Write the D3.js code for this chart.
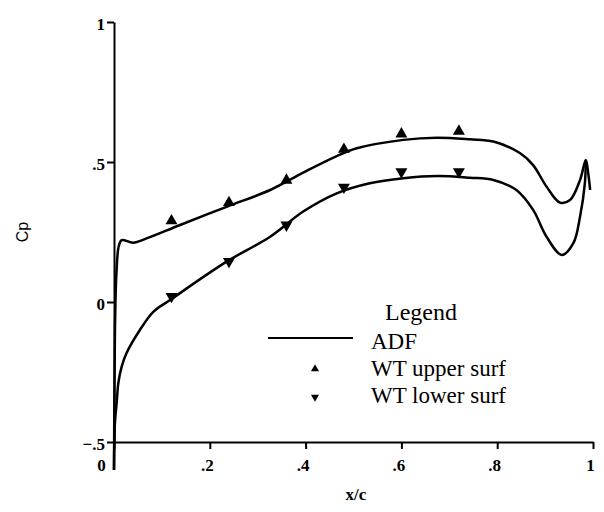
<!DOCTYPE html>
<html>
<head>
<meta charset="utf-8">
<script src="https://cdn.jsdelivr.net/npm/d3@7.9.0/dist/d3.min.js"></script>
<style>
  body { margin: 0; background: #fff; }
  svg { display: block; }
  .tick text { font-family: "Liberation Serif", serif; font-weight: bold; font-size: 17px; }
</style>
</head>
<body>
<svg id="chart" width="604" height="512"></svg>
<script>
// ADF computed curve, upper surface (leading edge -> trailing edge)
const adfUpperX  = [0, 0.002, 0.005, 0.010, 0.016, 0.040, 0.068, 0.138, 0.235, 0.326, 0.395, 0.465, 0.507, 0.604, 0.674, 0.743, 0.792, 0.848, 0.875, 0.903, 0.931, 0.952, 0.973, 0.985, 0.990, 0.994];
const adfUpperCp = [-0.6, -0.1, 0.10, 0.20, 0.221, 0.212, 0.227, 0.275, 0.340, 0.400, 0.462, 0.521, 0.549, 0.579, 0.587, 0.581, 0.573, 0.531, 0.489, 0.412, 0.355, 0.364, 0.436, 0.507, 0.46, 0.40];

// ADF computed curve, lower surface
const adfLowerX  = [0, 0.002, 0.0056, 0.009, 0.016, 0.026, 0.054, 0.082, 0.117, 0.235, 0.326, 0.395, 0.465, 0.534, 0.604, 0.674, 0.743, 0.792, 0.840, 0.875, 0.903, 0.935, 0.959, 0.973, 0.983, 0.985];
const adfLowerCp = [-0.6, -0.43, -0.36, -0.29, -0.231, -0.183, -0.100, -0.035, 0.007, 0.144, 0.233, 0.323, 0.388, 0.424, 0.442, 0.450, 0.444, 0.436, 0.400, 0.329, 0.233, 0.168, 0.210, 0.305, 0.424, 0.507];

// wind tunnel data
const wtX       = [0.12, 0.24, 0.36, 0.48, 0.60, 0.72];
const wtUpperCp = [0.29, 0.355, 0.435, 0.545, 0.60, 0.61];
const wtLowerCp = [0.02, 0.145, 0.275, 0.41, 0.465, 0.465];

const xTicks = [0, 0.2, 0.4, 0.6, 0.8, 1];
const yTicks = [-0.5, 0, 0.5, 1];
const legendLabels = ["ADF", "WT upper surf", "WT lower surf"];

const svg = d3.select('#chart');
svg.append('rect').attr('width', 604).attr('height', 512).attr('fill', '#fff');

const x = d3.scaleLinear().domain([0, 1]).range([114, 593]);
const y = d3.scaleLinear().domain([-0.5, 1]).range([442, 22]);

const fmt = v => v === 0 ? '0' : (v === 1 ? '1' : d3.format('.1f')(v).replace('0.', '.'));

// x axis
const gx = svg.append('g')
  .attr('transform', `translate(0,${y(-0.5)})`)
  .call(d3.axisBottom(x).tickValues(xTicks).tickSize(7).tickSizeOuter(0).tickPadding(10).tickFormat(fmt));
gx.selectAll('text').attr('dx', -3);
gx.selectAll('.tick').filter(d => d === 0).select('text').attr('dx', -13);

// y axis
const gy = svg.append('g')
  .attr('transform', `translate(${x(0)},0)`)
  .call(d3.axisLeft(y).tickValues(yTicks).tickSize(7).tickSizeOuter(0).tickPadding(2).tickFormat(fmt));
gy.selectAll('text').attr('dy', '0.45em');

svg.selectAll('.domain, .tick line').attr('stroke', '#000').attr('stroke-width', 2);

// axis titles
svg.append('text')
  .attr('transform', 'translate(28,232) rotate(-90)')
  .attr('text-anchor', 'middle')
  .style('font-family', '"Liberation Sans", sans-serif')
  .style('font-size', '16px')
  .text('Cp');

svg.append('text')
  .attr('x', 356).attr('y', 500)
  .attr('text-anchor', 'middle')
  .style('font-family', '"Liberation Serif", serif')
  .style('font-weight', 'bold')
  .style('font-size', '17px')
  .text('x/c');

// ADF curves
const line = d3.line()
  .x(d => x(d[0]))
  .y(d => y(d[1]))
  .curve(d3.curveCatmullRom.alpha(0.5));

[[adfUpperX, adfUpperCp], [adfLowerX, adfLowerCp]].forEach(([xs, cps]) => {
  svg.append('path')
    .attr('d', line(d3.zip(xs, cps)))
    .attr('fill', 'none')
    .attr('stroke', '#000')
    .attr('stroke-width', 2.5)
    .attr('stroke-linejoin', 'round');
});

// WT markers
const tri = d3.symbol().type(d3.symbolTriangle).size(62);
svg.selectAll('.up')
  .data(d3.zip(wtX, wtUpperCp))
  .join('path')
  .attr('d', tri)
  .attr('transform', d => `translate(${x(d[0])},${y(d[1])})`)
  .attr('fill', '#000');

svg.selectAll('.down')
  .data(d3.zip(wtX, wtLowerCp))
  .join('path')
  .attr('d', tri)
  .attr('transform', d => `translate(${x(d[0])},${y(d[1])}) rotate(180)`)
  .attr('fill', '#000');

// legend
const lg = svg.append('g')
  .style('font-family', '"Liberation Serif", serif')
  .style('font-size', '23px');

lg.append('text').attr('x', 385).attr('y', 320).style('font-size', '24px').text('Legend');
lg.append('line')
  .attr('x1', 268).attr('x2', 353).attr('y1', 338).attr('y2', 338)
  .attr('stroke', '#000').attr('stroke-width', 2);

const smallTri = d3.symbol().type(d3.symbolTriangle).size(28);
lg.append('path').attr('d', smallTri).attr('transform', 'translate(315,369)');
lg.append('path').attr('d', smallTri).attr('transform', 'translate(315,397) rotate(180)');

const legendY = [349, 376, 403];
legendLabels.forEach((t, i) => {
  lg.append('text').attr('x', 371).attr('y', legendY[i]).text(t);
});
</script>
</body>
</html>
